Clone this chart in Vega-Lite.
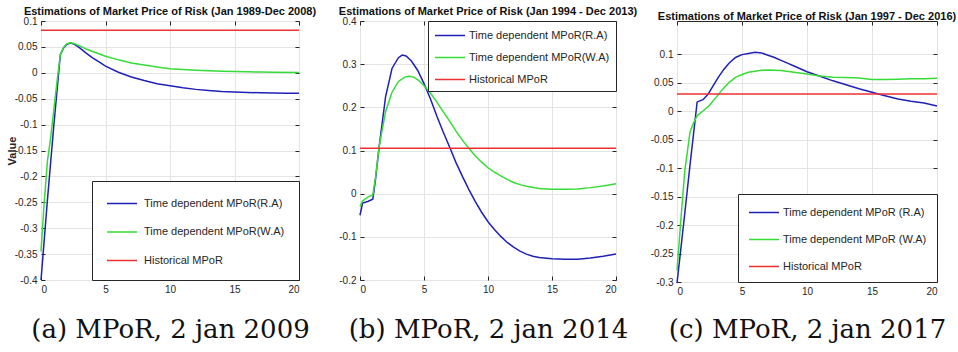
{
  "$schema": "https://vega.github.io/schema/vega-lite/v6.json",
  "padding": {"left": 5, "top": 5, "right": 0, "bottom": 0},
  "bounds": "flush",
  "spacing": 61,
  "config": {
    "view": {"stroke": "#262626", "strokeWidth": 1},
    "axis": {
      "grid": true, "gridColor": "#e4e4e4", "domain": false, "ticks": true, "tickSize": -4, "tickColor": "#262626",
      "labelFont": "Liberation Sans", "labelFontSize": 10, "labelColor": "#262626", "labelPadding": 8,
      "titleFont": "Liberation Sans", "titleFontSize": 11, "titleFontWeight": "bold", "titleColor": "#262626"
    },
    "axisX": {"titleFont": "DejaVu Serif", "titleFontSize": 26, "titleFontWeight": "normal", "titleColor": "#111111", "titleBaseline": "alphabetic", "titleY": 57},
    "title": {"font": "Liberation Sans", "fontSize": 11, "fontWeight": "bold", "color": "#111111", "baseline": "alphabetic", "offset": -1, "anchor": "middle"},
    "legend": {
      "title": null, "fillColor": "white", "strokeColor": "#262626", "offset": 0,
      "symbolType": "M-2,0H2", "symbolSize": 225, "symbolStrokeWidth": 1.5, "symbolOffset": 7.5,
      "labelFont": "Liberation Sans", "labelFontSize": 11, "labelColor": "#262626", "labelLimit": 0
    }
  },
  "datasets": {
    "p1": [
      {"t": 0, "v": -0.4, "s": "Time dependent MPoR(R.A)"},
      {"t": 0.05, "v": -0.385, "s": "Time dependent MPoR(R.A)"},
      {"t": 0.5, "v": -0.245, "s": "Time dependent MPoR(R.A)"},
      {"t": 1.0, "v": -0.1, "s": "Time dependent MPoR(R.A)"},
      {"t": 1.5, "v": 0.035, "s": "Time dependent MPoR(R.A)"},
      {"t": 1.75, "v": 0.048, "s": "Time dependent MPoR(R.A)"},
      {"t": 2.0, "v": 0.055, "s": "Time dependent MPoR(R.A)"},
      {"t": 2.3, "v": 0.0575, "s": "Time dependent MPoR(R.A)"},
      {"t": 2.6, "v": 0.055, "s": "Time dependent MPoR(R.A)"},
      {"t": 3.0, "v": 0.048, "s": "Time dependent MPoR(R.A)"},
      {"t": 3.5, "v": 0.038, "s": "Time dependent MPoR(R.A)"},
      {"t": 4.0, "v": 0.029, "s": "Time dependent MPoR(R.A)"},
      {"t": 4.5, "v": 0.021, "s": "Time dependent MPoR(R.A)"},
      {"t": 5, "v": 0.013, "s": "Time dependent MPoR(R.A)"},
      {"t": 6, "v": 0.001, "s": "Time dependent MPoR(R.A)"},
      {"t": 7, "v": -0.008, "s": "Time dependent MPoR(R.A)"},
      {"t": 8, "v": -0.015, "s": "Time dependent MPoR(R.A)"},
      {"t": 9, "v": -0.021, "s": "Time dependent MPoR(R.A)"},
      {"t": 10, "v": -0.025, "s": "Time dependent MPoR(R.A)"},
      {"t": 11, "v": -0.029, "s": "Time dependent MPoR(R.A)"},
      {"t": 12, "v": -0.032, "s": "Time dependent MPoR(R.A)"},
      {"t": 13, "v": -0.034, "s": "Time dependent MPoR(R.A)"},
      {"t": 14, "v": -0.036, "s": "Time dependent MPoR(R.A)"},
      {"t": 15, "v": -0.037, "s": "Time dependent MPoR(R.A)"},
      {"t": 16, "v": -0.038, "s": "Time dependent MPoR(R.A)"},
      {"t": 17, "v": -0.0385, "s": "Time dependent MPoR(R.A)"},
      {"t": 18, "v": -0.039, "s": "Time dependent MPoR(R.A)"},
      {"t": 19, "v": -0.0395, "s": "Time dependent MPoR(R.A)"},
      {"t": 20, "v": -0.0395, "s": "Time dependent MPoR(R.A)"},
      {"t": 0, "v": -0.345, "s": "Time dependent MPoR(W.A)"},
      {"t": 0.25, "v": -0.25, "s": "Time dependent MPoR(W.A)"},
      {"t": 0.5, "v": -0.17, "s": "Time dependent MPoR(W.A)"},
      {"t": 0.75, "v": -0.125, "s": "Time dependent MPoR(W.A)"},
      {"t": 1.0, "v": -0.07, "s": "Time dependent MPoR(W.A)"},
      {"t": 1.25, "v": -0.015, "s": "Time dependent MPoR(W.A)"},
      {"t": 1.5, "v": 0.035, "s": "Time dependent MPoR(W.A)"},
      {"t": 1.75, "v": 0.049, "s": "Time dependent MPoR(W.A)"},
      {"t": 2.0, "v": 0.056, "s": "Time dependent MPoR(W.A)"},
      {"t": 2.25, "v": 0.058, "s": "Time dependent MPoR(W.A)"},
      {"t": 2.5, "v": 0.057, "s": "Time dependent MPoR(W.A)"},
      {"t": 3, "v": 0.052, "s": "Time dependent MPoR(W.A)"},
      {"t": 3.5, "v": 0.046, "s": "Time dependent MPoR(W.A)"},
      {"t": 4, "v": 0.041, "s": "Time dependent MPoR(W.A)"},
      {"t": 5, "v": 0.032, "s": "Time dependent MPoR(W.A)"},
      {"t": 6, "v": 0.025, "s": "Time dependent MPoR(W.A)"},
      {"t": 7, "v": 0.019, "s": "Time dependent MPoR(W.A)"},
      {"t": 8, "v": 0.015, "s": "Time dependent MPoR(W.A)"},
      {"t": 9, "v": 0.011, "s": "Time dependent MPoR(W.A)"},
      {"t": 10, "v": 0.008, "s": "Time dependent MPoR(W.A)"},
      {"t": 11, "v": 0.0065, "s": "Time dependent MPoR(W.A)"},
      {"t": 12, "v": 0.005, "s": "Time dependent MPoR(W.A)"},
      {"t": 13, "v": 0.004, "s": "Time dependent MPoR(W.A)"},
      {"t": 14, "v": 0.003, "s": "Time dependent MPoR(W.A)"},
      {"t": 15, "v": 0.0025, "s": "Time dependent MPoR(W.A)"},
      {"t": 16, "v": 0.002, "s": "Time dependent MPoR(W.A)"},
      {"t": 17, "v": 0.0015, "s": "Time dependent MPoR(W.A)"},
      {"t": 18, "v": 0.001, "s": "Time dependent MPoR(W.A)"},
      {"t": 20, "v": 0.0005, "s": "Time dependent MPoR(W.A)"},
      {"t": 0, "v": 0.082, "s": "Historical MPoR"},
      {"t": 20, "v": 0.082, "s": "Historical MPoR"}
    ],
    "p2": [
      {"t": 0, "v": -0.05, "s": "Time dependent MPoR(R.A)"},
      {"t": 0.2, "v": -0.022, "s": "Time dependent MPoR(R.A)"},
      {"t": 0.6, "v": -0.018, "s": "Time dependent MPoR(R.A)"},
      {"t": 1.0, "v": -0.013, "s": "Time dependent MPoR(R.A)"},
      {"t": 1.2, "v": 0.03, "s": "Time dependent MPoR(R.A)"},
      {"t": 1.5, "v": 0.11, "s": "Time dependent MPoR(R.A)"},
      {"t": 2.0, "v": 0.225, "s": "Time dependent MPoR(R.A)"},
      {"t": 2.5, "v": 0.29, "s": "Time dependent MPoR(R.A)"},
      {"t": 3.0, "v": 0.315, "s": "Time dependent MPoR(R.A)"},
      {"t": 3.3, "v": 0.321, "s": "Time dependent MPoR(R.A)"},
      {"t": 3.6, "v": 0.319, "s": "Time dependent MPoR(R.A)"},
      {"t": 4.0, "v": 0.308, "s": "Time dependent MPoR(R.A)"},
      {"t": 4.5, "v": 0.286, "s": "Time dependent MPoR(R.A)"},
      {"t": 5.0, "v": 0.255, "s": "Time dependent MPoR(R.A)"},
      {"t": 5.5, "v": 0.22, "s": "Time dependent MPoR(R.A)"},
      {"t": 6.0, "v": 0.18, "s": "Time dependent MPoR(R.A)"},
      {"t": 6.5, "v": 0.143, "s": "Time dependent MPoR(R.A)"},
      {"t": 7.0, "v": 0.108, "s": "Time dependent MPoR(R.A)"},
      {"t": 7.5, "v": 0.072, "s": "Time dependent MPoR(R.A)"},
      {"t": 8.0, "v": 0.04, "s": "Time dependent MPoR(R.A)"},
      {"t": 8.5, "v": 0.01, "s": "Time dependent MPoR(R.A)"},
      {"t": 9.0, "v": -0.018, "s": "Time dependent MPoR(R.A)"},
      {"t": 9.5, "v": -0.043, "s": "Time dependent MPoR(R.A)"},
      {"t": 10, "v": -0.065, "s": "Time dependent MPoR(R.A)"},
      {"t": 10.5, "v": -0.083, "s": "Time dependent MPoR(R.A)"},
      {"t": 11, "v": -0.099, "s": "Time dependent MPoR(R.A)"},
      {"t": 11.5, "v": -0.113, "s": "Time dependent MPoR(R.A)"},
      {"t": 12, "v": -0.124, "s": "Time dependent MPoR(R.A)"},
      {"t": 12.5, "v": -0.133, "s": "Time dependent MPoR(R.A)"},
      {"t": 13, "v": -0.14, "s": "Time dependent MPoR(R.A)"},
      {"t": 13.5, "v": -0.145, "s": "Time dependent MPoR(R.A)"},
      {"t": 14, "v": -0.148, "s": "Time dependent MPoR(R.A)"},
      {"t": 15, "v": -0.151, "s": "Time dependent MPoR(R.A)"},
      {"t": 16, "v": -0.152, "s": "Time dependent MPoR(R.A)"},
      {"t": 17, "v": -0.152, "s": "Time dependent MPoR(R.A)"},
      {"t": 18, "v": -0.149, "s": "Time dependent MPoR(R.A)"},
      {"t": 19, "v": -0.145, "s": "Time dependent MPoR(R.A)"},
      {"t": 20, "v": -0.14, "s": "Time dependent MPoR(R.A)"},
      {"t": 0, "v": -0.03, "s": "Time dependent MPoR(W.A)"},
      {"t": 0.2, "v": -0.017, "s": "Time dependent MPoR(W.A)"},
      {"t": 0.6, "v": -0.008, "s": "Time dependent MPoR(W.A)"},
      {"t": 1.0, "v": -0.003, "s": "Time dependent MPoR(W.A)"},
      {"t": 1.2, "v": 0.035, "s": "Time dependent MPoR(W.A)"},
      {"t": 1.5, "v": 0.11, "s": "Time dependent MPoR(W.A)"},
      {"t": 2.0, "v": 0.19, "s": "Time dependent MPoR(W.A)"},
      {"t": 2.5, "v": 0.235, "s": "Time dependent MPoR(W.A)"},
      {"t": 3.0, "v": 0.26, "s": "Time dependent MPoR(W.A)"},
      {"t": 3.5, "v": 0.27, "s": "Time dependent MPoR(W.A)"},
      {"t": 3.8, "v": 0.272, "s": "Time dependent MPoR(W.A)"},
      {"t": 4.2, "v": 0.27, "s": "Time dependent MPoR(W.A)"},
      {"t": 4.6, "v": 0.262, "s": "Time dependent MPoR(W.A)"},
      {"t": 5.0, "v": 0.25, "s": "Time dependent MPoR(W.A)"},
      {"t": 5.5, "v": 0.233, "s": "Time dependent MPoR(W.A)"},
      {"t": 6.0, "v": 0.212, "s": "Time dependent MPoR(W.A)"},
      {"t": 6.5, "v": 0.19, "s": "Time dependent MPoR(W.A)"},
      {"t": 7.0, "v": 0.168, "s": "Time dependent MPoR(W.A)"},
      {"t": 7.5, "v": 0.145, "s": "Time dependent MPoR(W.A)"},
      {"t": 8.0, "v": 0.124, "s": "Time dependent MPoR(W.A)"},
      {"t": 8.5, "v": 0.105, "s": "Time dependent MPoR(W.A)"},
      {"t": 9.0, "v": 0.088, "s": "Time dependent MPoR(W.A)"},
      {"t": 9.5, "v": 0.073, "s": "Time dependent MPoR(W.A)"},
      {"t": 10, "v": 0.06, "s": "Time dependent MPoR(W.A)"},
      {"t": 10.5, "v": 0.05, "s": "Time dependent MPoR(W.A)"},
      {"t": 11, "v": 0.041, "s": "Time dependent MPoR(W.A)"},
      {"t": 11.5, "v": 0.033, "s": "Time dependent MPoR(W.A)"},
      {"t": 12, "v": 0.026, "s": "Time dependent MPoR(W.A)"},
      {"t": 12.5, "v": 0.021, "s": "Time dependent MPoR(W.A)"},
      {"t": 13, "v": 0.017, "s": "Time dependent MPoR(W.A)"},
      {"t": 14, "v": 0.012, "s": "Time dependent MPoR(W.A)"},
      {"t": 15, "v": 0.0105, "s": "Time dependent MPoR(W.A)"},
      {"t": 16, "v": 0.01, "s": "Time dependent MPoR(W.A)"},
      {"t": 17, "v": 0.011, "s": "Time dependent MPoR(W.A)"},
      {"t": 18, "v": 0.014, "s": "Time dependent MPoR(W.A)"},
      {"t": 19, "v": 0.018, "s": "Time dependent MPoR(W.A)"},
      {"t": 20, "v": 0.023, "s": "Time dependent MPoR(W.A)"},
      {"t": 0, "v": 0.105, "s": "Historical MPoR"},
      {"t": 20, "v": 0.105, "s": "Historical MPoR"}
    ],
    "p3": [
      {"t": 0, "v": -0.302, "s": "Time dependent MPoR (R.A)"},
      {"t": 0.5, "v": -0.2, "s": "Time dependent MPoR (R.A)"},
      {"t": 1.0, "v": -0.095, "s": "Time dependent MPoR (R.A)"},
      {"t": 1.55, "v": 0.016, "s": "Time dependent MPoR (R.A)"},
      {"t": 2.0, "v": 0.02, "s": "Time dependent MPoR (R.A)"},
      {"t": 2.4, "v": 0.03, "s": "Time dependent MPoR (R.A)"},
      {"t": 2.8, "v": 0.045, "s": "Time dependent MPoR (R.A)"},
      {"t": 3.2, "v": 0.06, "s": "Time dependent MPoR (R.A)"},
      {"t": 3.6, "v": 0.073, "s": "Time dependent MPoR (R.A)"},
      {"t": 4.0, "v": 0.084, "s": "Time dependent MPoR (R.A)"},
      {"t": 4.5, "v": 0.094, "s": "Time dependent MPoR (R.A)"},
      {"t": 5.0, "v": 0.099, "s": "Time dependent MPoR (R.A)"},
      {"t": 5.5, "v": 0.101, "s": "Time dependent MPoR (R.A)"},
      {"t": 6.0, "v": 0.103, "s": "Time dependent MPoR (R.A)"},
      {"t": 6.5, "v": 0.102, "s": "Time dependent MPoR (R.A)"},
      {"t": 7.0, "v": 0.098, "s": "Time dependent MPoR (R.A)"},
      {"t": 7.5, "v": 0.094, "s": "Time dependent MPoR (R.A)"},
      {"t": 8.0, "v": 0.089, "s": "Time dependent MPoR (R.A)"},
      {"t": 8.5, "v": 0.084, "s": "Time dependent MPoR (R.A)"},
      {"t": 9, "v": 0.079, "s": "Time dependent MPoR (R.A)"},
      {"t": 10, "v": 0.069, "s": "Time dependent MPoR (R.A)"},
      {"t": 11, "v": 0.061, "s": "Time dependent MPoR (R.A)"},
      {"t": 12, "v": 0.053, "s": "Time dependent MPoR (R.A)"},
      {"t": 13, "v": 0.046, "s": "Time dependent MPoR (R.A)"},
      {"t": 14, "v": 0.039, "s": "Time dependent MPoR (R.A)"},
      {"t": 15, "v": 0.033, "s": "Time dependent MPoR (R.A)"},
      {"t": 16, "v": 0.027, "s": "Time dependent MPoR (R.A)"},
      {"t": 17, "v": 0.021, "s": "Time dependent MPoR (R.A)"},
      {"t": 18, "v": 0.017, "s": "Time dependent MPoR (R.A)"},
      {"t": 19, "v": 0.014, "s": "Time dependent MPoR (R.A)"},
      {"t": 20, "v": 0.009, "s": "Time dependent MPoR (R.A)"},
      {"t": 0, "v": -0.28, "s": "Time dependent MPoR (W.A)"},
      {"t": 0.3, "v": -0.19, "s": "Time dependent MPoR (W.A)"},
      {"t": 0.6, "v": -0.105, "s": "Time dependent MPoR (W.A)"},
      {"t": 1.0, "v": -0.037, "s": "Time dependent MPoR (W.A)"},
      {"t": 1.25, "v": -0.022, "s": "Time dependent MPoR (W.A)"},
      {"t": 1.55, "v": -0.008, "s": "Time dependent MPoR (W.A)"},
      {"t": 2.0, "v": 0.0, "s": "Time dependent MPoR (W.A)"},
      {"t": 2.5, "v": 0.01, "s": "Time dependent MPoR (W.A)"},
      {"t": 3.0, "v": 0.024, "s": "Time dependent MPoR (W.A)"},
      {"t": 3.5, "v": 0.038, "s": "Time dependent MPoR (W.A)"},
      {"t": 4.0, "v": 0.05, "s": "Time dependent MPoR (W.A)"},
      {"t": 4.5, "v": 0.059, "s": "Time dependent MPoR (W.A)"},
      {"t": 5.0, "v": 0.064, "s": "Time dependent MPoR (W.A)"},
      {"t": 5.5, "v": 0.068, "s": "Time dependent MPoR (W.A)"},
      {"t": 6.0, "v": 0.07, "s": "Time dependent MPoR (W.A)"},
      {"t": 6.5, "v": 0.0715, "s": "Time dependent MPoR (W.A)"},
      {"t": 7.0, "v": 0.072, "s": "Time dependent MPoR (W.A)"},
      {"t": 8.0, "v": 0.071, "s": "Time dependent MPoR (W.A)"},
      {"t": 9.0, "v": 0.068, "s": "Time dependent MPoR (W.A)"},
      {"t": 10, "v": 0.065, "s": "Time dependent MPoR (W.A)"},
      {"t": 11, "v": 0.0615, "s": "Time dependent MPoR (W.A)"},
      {"t": 12, "v": 0.0595, "s": "Time dependent MPoR (W.A)"},
      {"t": 13, "v": 0.059, "s": "Time dependent MPoR (W.A)"},
      {"t": 14, "v": 0.058, "s": "Time dependent MPoR (W.A)"},
      {"t": 15, "v": 0.0555, "s": "Time dependent MPoR (W.A)"},
      {"t": 16, "v": 0.0555, "s": "Time dependent MPoR (W.A)"},
      {"t": 17, "v": 0.056, "s": "Time dependent MPoR (W.A)"},
      {"t": 18, "v": 0.0565, "s": "Time dependent MPoR (W.A)"},
      {"t": 19, "v": 0.0565, "s": "Time dependent MPoR (W.A)"},
      {"t": 20, "v": 0.0575, "s": "Time dependent MPoR (W.A)"},
      {"t": 0, "v": 0.03, "s": "Historical MPoR"},
      {"t": 20, "v": 0.03, "s": "Historical MPoR"}
    ]
  },
  "hconcat": [
    {
      "width": 258, "height": 259,
      "title": "Estimations of Market Price of Risk (Jan 1989-Dec 2008)",
      "data": {"name": "p1"},
      "layer": [
        {
          "mark": {"type": "line", "strokeWidth": 1.5},
          "encoding": {
            "x": {"field": "t", "type": "quantitative", "scale": {"domain": [0, 20], "nice": false},
                  "axis": {"values": [0, 5, 10, 15, 20], "title": "(a) MPoR, 2 jan 2009"}},
            "y": {"field": "v", "type": "quantitative", "scale": {"domain": [-0.4, 0.1], "nice": false, "zero": false},
                  "axis": {"values": [-0.4, -0.35, -0.3, -0.25, -0.2, -0.15, -0.1, -0.05, 0, 0.05, 0.1], "labelExpr": "'' + datum.value",
                           "title": "Value", "titleX": -29, "titleBaseline": "middle"}},
            "color": {"field": "s", "type": "nominal",
                      "scale": {"domain": ["Time dependent MPoR(R.A)", "Time dependent MPoR(W.A)", "Historical MPoR"], "range": ["#2020b8", "#36dc36", "#ee3030"]},
                      "legend": {"orient": "bottom-right", "padding": 14, "rowPadding": 14.5, "labelOffset": 13.5, "labelExpr": "datum.label + '  '"}}
          }
        },
        {
          "mark": {"type": "line", "opacity": 0},
          "encoding": {
            "x": {"field": "t", "type": "quantitative", "axis": {"orient": "top", "values": [0, 5, 10, 15, 20], "labels": false, "grid": false, "title": null}},
            "y": {"field": "v", "type": "quantitative", "axis": {"orient": "right", "values": [-0.4, -0.35, -0.3, -0.25, -0.2, -0.15, -0.1, -0.05, 0, 0.05, 0.1], "labels": false, "grid": false, "title": null}},
            "detail": {"field": "s"}
          }
        }
      ],
      "resolve": {"axis": {"x": "independent", "y": "independent"}}
    },
    {
      "width": 256, "height": 259,
      "title": "Estimations of Market Price of Risk (Jan 1994 - Dec 2013)",
      "data": {"name": "p2"},
      "layer": [
        {
          "mark": {"type": "line", "strokeWidth": 1.5},
          "encoding": {
            "x": {"field": "t", "type": "quantitative", "scale": {"domain": [0, 20], "nice": false},
                  "axis": {"values": [0, 5, 10, 15, 20], "title": "(b) MPoR, 2 jan 2014"}},
            "y": {"field": "v", "type": "quantitative", "scale": {"domain": [-0.2, 0.4], "nice": false, "zero": false},
                  "axis": {"values": [-0.2, -0.1, 0, 0.1, 0.2, 0.3, 0.4], "labelExpr": "'' + datum.value", "title": null}},
            "color": {"field": "s", "type": "nominal",
                      "scale": {"domain": ["Time dependent MPoR(R.A)", "Time dependent MPoR(W.A)", "Historical MPoR"], "range": ["#2020b8", "#36dc36", "#ee3030"]},
                      "legend": {"orient": "top-right", "padding": 6, "rowPadding": 8, "labelOffset": 10.5}}
          }
        },
        {
          "mark": {"type": "line", "opacity": 0},
          "encoding": {
            "x": {"field": "t", "type": "quantitative", "axis": {"orient": "top", "values": [0, 5, 10, 15, 20], "labels": false, "grid": false, "title": null}},
            "y": {"field": "v", "type": "quantitative", "axis": {"orient": "right", "values": [-0.2, -0.1, 0, 0.1, 0.2, 0.3, 0.4], "labels": false, "grid": false, "title": null}},
            "detail": {"field": "s"}
          }
        }
      ],
      "resolve": {"axis": {"x": "independent", "y": "independent"}}
    },
    {
      "width": 260, "height": 261,
      "title": "Estimations of Market Price of Risk (Jan 1997 - Dec 2016)",
      "data": {"name": "p3"},
      "layer": [
        {
          "mark": {"type": "line", "strokeWidth": 1.5},
          "encoding": {
            "x": {"field": "t", "type": "quantitative", "scale": {"domain": [0, 20], "nice": false},
                  "axis": {"values": [0, 5, 10, 15, 20], "title": "(c) MPoR, 2 jan 2017", "titleY": 55}},
            "y": {"field": "v", "type": "quantitative", "scale": {"domain": [-0.3, 0.158], "nice": false, "zero": false},
                  "axis": {"values": [-0.3, -0.25, -0.2, -0.15, -0.1, -0.05, 0, 0.05, 0.1], "labelExpr": "'' + datum.value", "title": null}},
            "color": {"field": "s", "type": "nominal",
                      "scale": {"domain": ["Time dependent MPoR (R.A)", "Time dependent MPoR (W.A)", "Historical MPoR"], "range": ["#2020b8", "#36dc36", "#ee3030"]},
                      "legend": {"orient": "bottom-right", "padding": 10, "rowPadding": 13, "labelOffset": 10.5}}
          }
        },
        {
          "mark": {"type": "line", "opacity": 0},
          "encoding": {
            "x": {"field": "t", "type": "quantitative", "axis": {"orient": "top", "values": [0, 5, 10, 15, 20], "labels": false, "grid": false, "title": null}},
            "y": {"field": "v", "type": "quantitative", "axis": {"orient": "right", "values": [-0.3, -0.25, -0.2, -0.15, -0.1, -0.05, 0, 0.05, 0.1], "labels": false, "grid": false, "title": null}},
            "detail": {"field": "s"}
          }
        }
      ],
      "resolve": {"axis": {"x": "independent", "y": "independent"}}
    }
  ],
  "resolve": {"scale": {"color": "independent"}, "legend": {"color": "independent"}}
}
